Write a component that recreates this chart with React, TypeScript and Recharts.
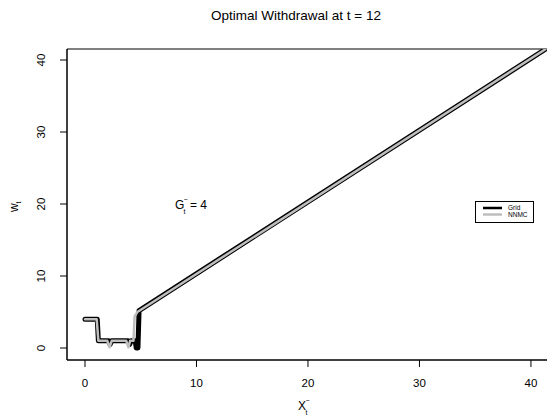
import React from "react";
import { LineChart, Line, XAxis, YAxis, ReferenceArea } from "recharts";

// optimal withdrawal w_t vs wealth X_t^- (G_t^- = 4)
const gridX = [0, 1.1, 1.2, 2.1, 2.25, 2.4, 3.85, 4.0, 4.15, 4.5, 4.6, 4.75, 4.85, 41.3];
const gridW = [4, 4, 1, 1, 0.5, 1, 1, 0.5, 1, 1, 0, 0, 5.2, 41.5];

const nnmcX = [0, 1.05, 1.2, 2.0, 2.2, 2.4, 3.7, 3.9, 4.05, 4.35, 4.45, 4.7, 41.3];
const nnmcW = [4, 4, 1, 1, 0.1, 1, 1, 0.1, 1, 1, 4.4, 5.0, 41.5];

const xTicks = [0, 10, 20, 30, 40];
const yTicks = [0, 10, 20, 30, 40];

const X_MIN = -1.614;
const X_MAX = 41.62;
const Y_MIN = -1.667;
const Y_MAX = 41.53;

const gridData = gridX.map((x, i) => ({ x, w: gridW[i] }));
const nnmcData = nnmcX.map((x, i) => ({ x, w: nnmcW[i] }));

const FONT = "'Liberation Sans', Arial, Helvetica, sans-serif";

const YTick = (props: any) => {
  const { y, payload } = props;
  return (
    <text
      x={41.5}
      y={y}
      transform={`rotate(-90, 41.5, ${y})`}
      textAnchor="middle"
      dominantBaseline="central"
      fontSize={11.5}
      fontFamily={FONT}
      fill="#000"
    >
      {payload.value}
    </text>
  );
};

export default function App() {
  return (
    <div
      style={{
        position: "fixed",
        left: 0,
        top: 0,
        width: 547,
        height: 418,
        overflow: "hidden",
        background: "#fff",
      }}
    >
      <LineChart
        width={560}
        height={418}
        margin={{ top: 49, right: 11, bottom: 0, left: 0 }}
        style={{ fontFamily: FONT }}
      >
        <XAxis
          dataKey="x"
          type="number"
          domain={[X_MIN, X_MAX]}
          ticks={xTicks}
          allowDataOverflow
          height={58}
          tickSize={7}
          tickMargin={12}
          stroke="#000"
          tick={{ fill: "#000", fontSize: 11.5 }}
        />
        <YAxis
          dataKey="w"
          type="number"
          domain={[Y_MIN, Y_MAX]}
          ticks={yTicks}
          allowDataOverflow
          width={67}
          tickSize={7}
          stroke="#000"
          tick={<YTick />}
        />
        <ReferenceArea
          x1={X_MIN}
          x2={X_MAX}
          y1={Y_MIN}
          y2={Y_MAX}
          fill="none"
          stroke="#000"
          strokeWidth={1}
          ifOverflow="visible"
        />
        <Line
          data={gridData}
          dataKey="w"
          stroke="#000"
          strokeWidth={5}
          strokeLinejoin="round"
          strokeLinecap="round"
          dot={false}
          type="linear"
          isAnimationActive={false}
        />
        <Line
          data={nnmcData}
          dataKey="w"
          stroke="#BEBEBE"
          strokeWidth={2.5}
          strokeLinejoin="round"
          strokeLinecap="round"
          dot={false}
          type="linear"
          isAnimationActive={false}
        />
      </LineChart>
      <svg
        width={547}
        height={418}
        style={{ position: "absolute", left: 0, top: 0, pointerEvents: "none" }}
        fontFamily={FONT}
      >
        <text x={296} y={20} textAnchor="middle" fontSize={13.5} fill="#000">
          Optimal Withdrawal at t = 12
        </text>

        {/* x axis title: X_t^- */}
        <text x={298} y={410} fontSize={12} fill="#000">X</text>
        <text x={305.5} y={415} fontSize={7} fill="#000">t</text>
        <text x={305.5} y={403} fontSize={7} fill="#000">−</text>

        {/* y axis title: w_t */}
        <g transform="rotate(-90, 14, 206)">
          <text x={8} y={210} fontSize={12} fill="#000">w</text>
          <text x={16.5} y={213} fontSize={7} fill="#000">t</text>
        </g>

        {/* annotation: G_t^- = 4 */}
        <text x={175} y={209} fontSize={12} fill="#000">G</text>
        <text x={183.5} y={214} fontSize={7} fill="#000">t</text>
        <text x={183.5} y={202} fontSize={7} fill="#000">−</text>
        <text x={190} y={209} fontSize={12} fill="#000">= 4</text>

        <rect x={475.5} y={201.5} width={58} height={21} fill="#fff" stroke="#000" strokeWidth={1} />
        <line x1={483} y1={208} x2={502} y2={208} stroke="#000" strokeWidth={2.5} />
        <line x1={483} y1={214.5} x2={502} y2={214.5} stroke="#BEBEBE" strokeWidth={2.5} />
        <text x={508} y={210} fontSize={6.5} fill="#000">Grid</text>
        <text x={508} y={216.8} fontSize={6.5} fill="#000">NNMC</text>
      </svg>
    </div>
  );
}
